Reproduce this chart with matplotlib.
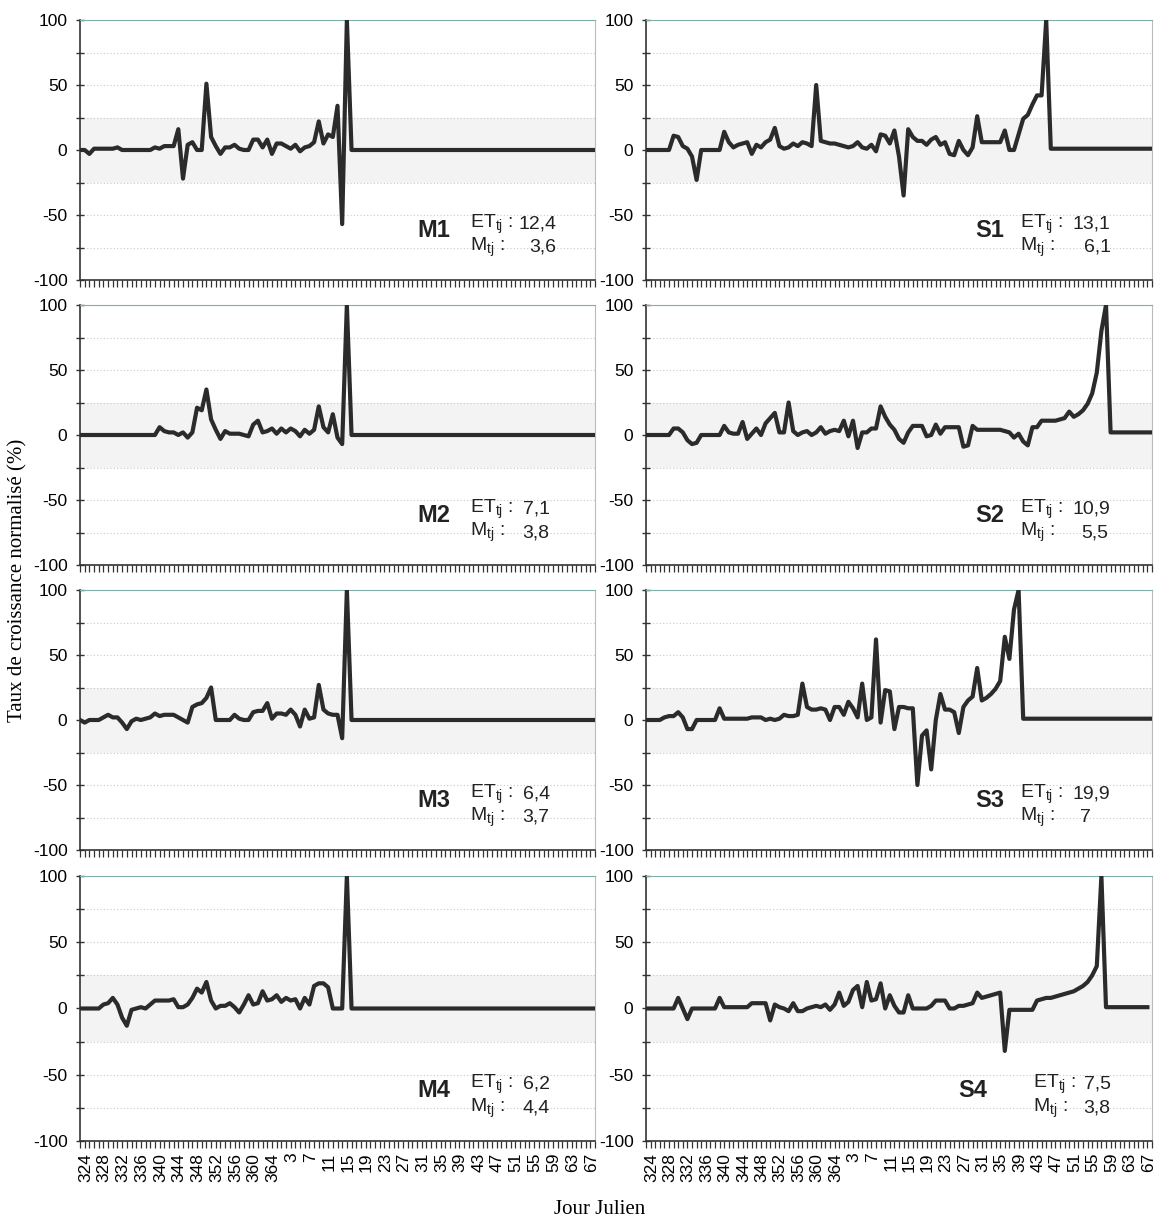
import matplotlib
matplotlib.use("Agg")
import matplotlib.pyplot as plt
import matplotlib.transforms as mtransforms
from matplotlib import font_manager
import numpy as np

# ---------------- data ----------------
days = list(range(324, 366)) + list(range(1, 70))          # Julian days (111 categories)
tick_days = days[::4]                                        # labelled every 4 days

M1 = [0,0,-3,1,1,1,1,1,2,0,0,0,0,0,0,0,2,1,3,3,3,16,-22,4,6,0,0,51,10,3,-3,2,2,4,1,0,0,8,8,2,8,-3,5,5,3,1,4,-1,2,3,6,22,5,12,10,34,-57,100] + [0]*53
M2 = [0]*17 + [6,3,2,2,0,2,-2,2,21,19,35,12,4,-3,3,1,1,1,0,-1,8,11,2,3,5,1,5,2,5,3,-1,4,1,4,22,6,2,16,-2,-7,100] + [0]*53
M3 = [0,-2,0,0,0,2,4,2,2,-2,-7,-1,1,0,1,2,5,3,4,4,4,2,0,-2,10,12,13,17,25,0,0,0,0,4,1,0,0,6,7,7,13,1,5,5,4,8,4,-5,8,1,2,27,8,5,4,4,-14,100] + [0]*53
M4 = [0,0,0,0,0,3,4,8,3,-7,-13,-1,0,1,0,3,6,6,6,6,7,1,1,3,8,15,12,20,6,0,2,2,4,1,-3,3,10,3,4,13,6,7,10,5,8,6,7,0,8,3,17,19,19,16,0,0,0,100] + [0]*53

S1 = [0,0,0,0,0,0,11,10,3,1,-5,-23,0,0,0,0,0,14,6,2,4,5,6,-3,4,2,6,8,17,3,1,2,5,3,6,5,3,50,7,6,5,5,4,3,2,3,6,2,1,4,-1,12,11,5,15,-5,-35,16,10,7,7,4,8,10,4,6,-3,-4,7,0,-4,2,26,6,6,6,6,6,15,0,0,12,24,27,35,42,42,100] + [1]*23
S2 = [0,0,0,0,0,0,5,5,2,-4,-7,-6,0,0,0,0,0,7,2,1,1,10,-3,1,5,0,9,13,17,2,2,25,3,0,2,3,0,2,6,1,3,4,3,11,-1,11,-10,2,2,5,5,22,14,8,4,-3,-6,2,7,7,7,-1,0,8,1,6,6,6,6,-9,-8,7,4,4,4,4,4,4,3,2,-2,1,-5,-8,6,6,11,11,11,11,12,13,18,14,16,19,24,32,48,80,100] + [2]*10
S3 = [0,0,0,0,2,3,3,6,2,-7,-7,0,0,0,0,0,9,1,1,1,1,1,1,2,2,2,0,1,0,1,4,3,3,4,28,10,8,8,9,8,0,10,10,4,14,9,2,28,0,2,62,-2,23,22,-7,10,10,9,9,-50,-12,-8,-38,0,20,8,8,6,-10,10,15,18,40,15,17,20,24,30,64,47,85,100] + [1]*29
S4 = [0,0,0,0,0,0,0,8,0,-8,0,0,0,0,0,0,8,1,1,1,1,1,1,4,4,4,4,-9,3,1,0,-2,4,-2,-2,0,1,2,1,3,-1,3,12,2,5,14,17,1,20,6,7,19,0,10,2,-3,-3,10,0,0,0,0,2,6,6,6,0,0,2,2,3,4,12,8,9,10,11,12,-32,-1,-1,-1,-1,-1,-1,6,7,8,8,9,10,11,12,13,15,17,20,25,32,100] + [1]*10

names = ["M1", "S1", "M2", "S2", "M3", "S3", "M4", "S4"]
series = [M1, S1, M2, S2, M3, S3, M4, S4]
et_vals = ["12,4", "13,1", "7,1", "10,9", "6,4", "19,9", "6,2", "7,5"]
m_vals = ["3,6", "6,1", "3,8", "5,5", "3,7", "7", "4,4", "3,8"]

# ---------------- layout ----------------
W, H = 1158, 1225
fig = plt.figure(figsize=(W / 100, H / 100), dpi=100)
col_px = [(80, 595), (646, 1152)]
row_px = [(20, 280), (305, 565), (590, 850), (876, 1141)]

installed = {f.name for f in font_manager.fontManager.ttflist}
narrow = [f for f in ["Liberation Sans Narrow", "Liberation Sans", "DejaVu Sans"] if f in installed]
sans = [f for f in ["Liberation Sans", "DejaVu Sans"] if f in installed]
serif = [f for f in ["Liberation Serif", "DejaVu Serif"] if f in installed]
plt.rcParams["font.family"] = sans
plt.rcParams["axes.unicode_minus"] = False

line_col = "#2b2b2b"
txt_col = "#222222"
x = np.arange(len(days))

# annotation positions (axes fraction): name_x, et_x, value_right_x, m_value_right_x
ann = {
    "M1": (0.655, 0.757, 0.925, 0.925),
    "M2": (0.655, 0.757, 0.912, 0.912),
    "M3": (0.655, 0.757, 0.912, 0.912),
    "M4": (0.655, 0.757, 0.912, 0.912),
    "S1": (0.650, 0.740, 0.918, 0.918),
    "S2": (0.650, 0.740, 0.918, 0.914),
    "S3": (0.650, 0.740, 0.918, 0.880),
    "S4": (0.617, 0.765, 0.918, 0.918),
}

for k, (name, vals) in enumerate(zip(names, series)):
    r, c = divmod(k, 2)
    x0, x1 = col_px[c]
    y0, y1 = row_px[r]
    ax = fig.add_axes([x0 / W, 1 - y1 / H, (x1 - x0) / W, (y1 - y0) / H])
    ax.set_xlim(0, len(days) - 1)
    ax.set_ylim(-100, 100)

    # background band and dotted grid
    ax.axhspan(-25, 25, color="#f3f3f3", zorder=0, lw=0)
    for gy in (-75, -50, -25, 25, 50, 75):
        ax.axhline(gy, color="#c9c9c9", lw=0.8, ls=(0, (1, 2)), zorder=1)

    n = min(len(vals), len(days))
    ax.plot(x[:n], vals[:n], color=line_col, lw=3.0, solid_joinstyle="round", zorder=3)

    # y axis
    ax.set_yticks([-100, -50, 0, 50, 100])
    ax.set_yticks([-75, -25, 25, 75], minor=True)
    ax.tick_params(axis="y", which="both", direction="inout", length=6, width=1,
                   color="#333333", pad=6)
    for lab in ax.get_yticklabels():
        lab.set_fontfamily(narrow)
        lab.set_fontsize(12.5)
    # x axis
    ax.set_xticks(np.arange(0, len(days), 4))
    ax.set_xticks(np.arange(0, len(days), 1), minor=True)
    ax.tick_params(axis="x", which="both", direction="out", length=5, width=0.9,
                   color="#333333")
    if r == 3:
        ax.set_xticklabels([str(d) for d in tick_days], rotation=90, fontsize=12.5,
                           family=narrow)
        offset = mtransforms.ScaledTranslation(4 / 72, 0, fig.dpi_scale_trans)
        for lab in ax.get_xticklabels():
            lab.set_transform(lab.get_transform() + offset)
    else:
        ax.set_xticklabels([])

    for s in ("left", "bottom"):
        ax.spines[s].set_color("#333333")
        ax.spines[s].set_linewidth(1.2)
    ax.spines["top"].set_color("#7fb0aa")
    ax.spines["top"].set_linewidth(0.8)
    ax.spines["right"].set_color("#bbbbbb")
    ax.spines["right"].set_linewidth(0.8)

    nx, ex, vx, mvx = ann[name]
    ax.text(nx, 0.19, name, transform=ax.transAxes, fontsize=17, fontweight="bold",
            ha="left", va="center", color=txt_col)
    ax.text(ex, 0.215, r"ET$_{\mathregular{tj}}$ :", transform=ax.transAxes,
            fontsize=14, ha="left", va="center", color=txt_col)
    ax.text(vx, 0.215, et_vals[k], transform=ax.transAxes,
            fontsize=14, ha="right", va="center", color=txt_col)
    ax.text(ex, 0.125, r"M$_{\mathregular{tj}}$ :", transform=ax.transAxes,
            fontsize=14, ha="left", va="center", color=txt_col)
    ax.text(mvx, 0.125, m_vals[k], transform=ax.transAxes,
            fontsize=14, ha="right", va="center", color=txt_col)

fig.text(18 / W, 1 - 580 / H, "Taux de croissance normalisé (%)", rotation=90,
         ha="center", va="center", fontsize=15, family=serif)
fig.text(600 / W, 1 - 1210 / H, "Jour Julien", ha="center", va="center",
         fontsize=15, family=serif)

fig.savefig("out.png", dpi=100, facecolor="white")
